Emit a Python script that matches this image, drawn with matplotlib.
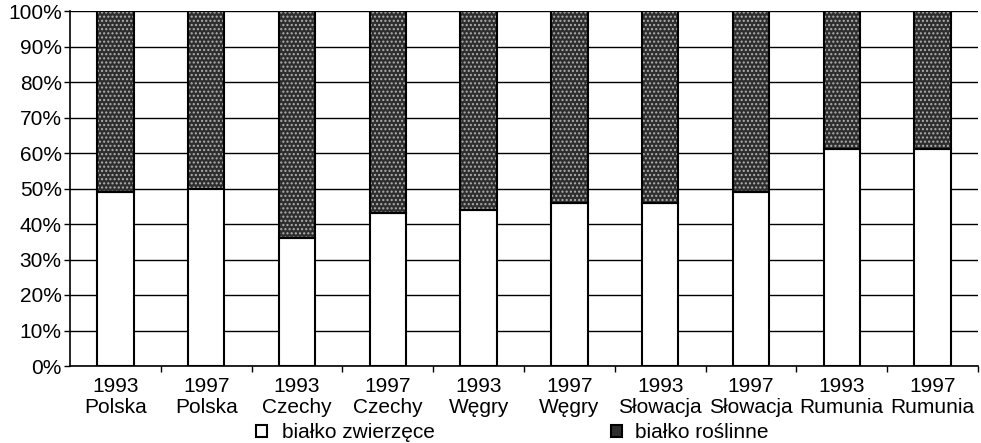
import matplotlib
matplotlib.use("Agg")
import matplotlib.pyplot as plt
from matplotlib.patches import Patch
import numpy as np

plt.rcParams['font.family'] = ['Liberation Sans', 'DejaVu Sans']

years = ["1993", "1997", "1993", "1997", "1993", "1997", "1993", "1997", "1993", "1997"]
countries = ["Polska", "Polska", "Czechy", "Czechy", "Węgry", "Węgry",
             "Słowacja", "Słowacja", "Rumunia", "Rumunia"]
animal = [49, 50, 36, 43, 44, 46, 46, 49, 61, 61]
plant = [100 - a for a in animal]
yticks = [0, 10, 20, 30, 40, 50, 60, 70, 80, 90, 100]
legend_labels = ["białko zwierzęce", "białko roślinne"]

FS = 15

fig = plt.figure(figsize=(9.81, 4.43), dpi=100)
ax = fig.add_axes([70/981, 1 - 366/443, 908/981, 355/443])

x = np.arange(len(animal))
w = 0.4
ax.bar(x, animal, width=w, color="white", edgecolor="black", linewidth=1.5, zorder=3)
ax.bar(x, plant, bottom=animal, width=w, color="#2e2e2e", edgecolor="#b0b0b0",
       hatch="....", linewidth=0, zorder=3)
ax.bar(x, plant, bottom=animal, width=w, fill=False, edgecolor="black",
       linewidth=1.5, zorder=4)

ax.set_xlim(-0.5, len(animal) - 0.5)
ax.set_ylim(0, 100)
ax.set_yticks(yticks)
ax.set_yticklabels([f"{v}%" for v in yticks], fontsize=FS)
ax.yaxis.grid(True, color="black", linewidth=1.0, zorder=0)
ax.set_axisbelow(True)
ax.set_xticks(x)
ax.set_xticklabels([f"{y}\n{c}" for y, c in zip(years, countries)], fontsize=FS,
                   linespacing=1.12)
ax.tick_params(axis="x", length=0, pad=8)
ax.set_xticks(np.arange(-0.5, len(animal), 1.0)[1:], minor=True)
ax.tick_params(axis="x", which="minor", length=4, direction="out", width=1)
ax.tick_params(axis="y", length=4, direction="out", width=1, pad=2)
for s in ["top", "right"]:
    ax.spines[s].set_visible(False)
for s in ["left", "bottom"]:
    ax.spines[s].set_linewidth(1.2)

h1 = Patch(facecolor="white", edgecolor="black", linewidth=1.5)
h2 = Patch(facecolor="#2e2e2e", edgecolor="black", linewidth=1.5)
fig.legend([h1], [legend_labels[0]], loc="center left", bbox_to_anchor=(256/981, 1 - 433/443),
           frameon=False, fontsize=FS, handlelength=0.55, handleheight=0.55,
           handletextpad=0.7, borderpad=0, borderaxespad=0)
fig.legend([h2], [legend_labels[1]], loc="center left", bbox_to_anchor=(611/981, 1 - 433/443),
           frameon=False, fontsize=FS, handlelength=0.55, handleheight=0.55,
           handletextpad=0.6, borderpad=0, borderaxespad=0)

fig.savefig("out.png", dpi=100)
